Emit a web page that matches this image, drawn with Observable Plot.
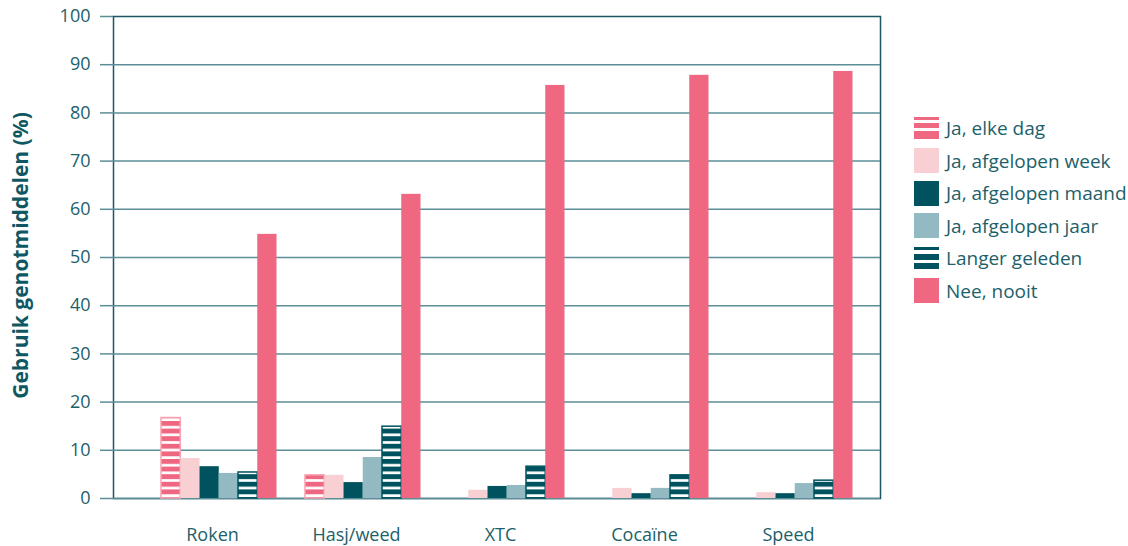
<!DOCTYPE html>
<html>
<head>
<meta charset="utf-8">
<script src="https://cdn.jsdelivr.net/npm/d3@7"></script>
<script src="https://cdn.jsdelivr.net/npm/@observablehq/plot@0.6"></script>
<style>
  html, body { margin: 0; padding: 0; background: #fff; }
  #wrap { position: relative; width: 1128px; height: 546px; font-family: "Open Sans", sans-serif; }
  #legend { position: absolute; left: 914px; top: 112px; color: #1d5f6a; font-size: 19px; }
  #legend .row { display: flex; align-items: center; height: 32.5px; white-space: nowrap; }
  #legend .sw { width: 25px; height: 24px; margin-right: 7px; flex: none; }
</style>
</head>
<body>
<div id="wrap"><div id="legend"></div></div>
<script>
// Drug use among respondents, percentage per answer
const categories = ["Roken", "Hasj/weed", "XTC", "Cocaïne", "Speed"];
const seriesNames = ["Ja, elke dag", "Ja, afgelopen week", "Ja, afgelopen maand", "Ja, afgelopen jaar", "Langer geleden", "Nee, nooit"];
const elkeDag        = [16.7, 4.8, 0, 0, 0];
const afgelopenWeek  = [8.3, 4.8, 1.7, 2.1, 1.2];
const afgelopenMaand = [6.6, 3.3, 2.5, 1.0, 1.0];
const afgelopenJaar  = [5.2, 8.5, 2.7, 2.1, 3.1];
const langerGeleden  = [5.4, 14.9, 6.6, 4.8, 3.7];
const neeNooit       = [54.8, 63.1, 85.7, 87.8, 88.6];
const yTicks = [0, 10, 20, 30, 40, 50, 60, 70, 80, 90, 100];
const yLabel = "Gebruik genotmiddelen (%)";

const seriesValues = [elkeDag, afgelopenWeek, afgelopenMaand, afgelopenJaar, langerGeleden, neeNooit];
const rows = [];
seriesNames.forEach((s, j) => categories.forEach((c, i) => rows.push({series: s, category: c, value: seriesValues[j][i]})));

const pink = "#f06781", lightPink = "#f8cfd3", darkTeal = "#00535e", greyTeal = "#93bac3";
const textColor = "#1d5f6a", gridColor = "#5b8e97", frameColor = "#1a5761";

// fill and outline per series; striped ones use SVG patterns added below
const styles = [
  {fill: "url(#stripePink)", stroke: "#f7a3b3", strokeWidth: 1.5},
  {fill: lightPink},
  {fill: darkTeal},
  {fill: greyTeal},
  {fill: "url(#stripeTeal)", stroke: darkTeal, strokeWidth: 1.5},
  {fill: pink}
];

const band = 144, barW = 19.25, lead = 21;
const barMarks = seriesNames.map((s, j) => Plot.barY(
  rows.filter(d => d.series === s && d.value > 0),
  {x: "category", y: "value", insetLeft: lead + j * barW, insetRight: band - lead - (j + 1) * barW, ...styles[j]}
));

const svg = Plot.plot({
  width: 1128,
  height: 546,
  marginLeft: 113,
  marginRight: 248,
  marginTop: 16,
  marginBottom: 48,
  style: {fontFamily: "'Open Sans', sans-serif", fontSize: "18px", color: textColor, background: "transparent"},
  x: {type: "band", domain: categories, range: [140, 860], padding: 0, axis: null},
  y: {domain: [0, 100], axis: null},
  marks: [
    Plot.frame({stroke: frameColor, strokeWidth: 1.5}),
    Plot.gridY(yTicks.filter(t => t < 100), {stroke: gridColor, strokeOpacity: 1, strokeWidth: 1.5}),
    ...barMarks,
    Plot.axisY(yTicks, {
      tickSize: 13, tickPadding: 10, stroke: gridColor, strokeWidth: 1.5, fill: textColor,
      fontSize: 18, tickFormat: d => String(d),
      label: null
    }),
    Plot.axisX({tickSize: 0, tickPadding: 30, fill: textColor, fontSize: 18, label: null}),
    Plot.text([yLabel], {
      frameAnchor: "left", dx: -100, dy: -2, rotate: -90, lineAnchor: "top", textAnchor: "middle",
      fill: "#0f5863", fontWeight: "bold", fontSize: 21
    })
  ]
});

// striped fills
const defs = d3.select(svg).insert("defs", ":first-child");
function stripes(id, color) {
  const p = defs.append("pattern").attr("id", id).attr("patternUnits", "userSpaceOnUse")
    .attr("width", 10).attr("height", 7.6).attr("patternTransform", "translate(0,3)");
  p.append("rect").attr("width", 10).attr("height", 7.6).attr("fill", color);
  p.append("rect").attr("y", 4.9).attr("width", 10).attr("height", 2.7).attr("fill", "#fff");
}
stripes("stripePink", pink);
stripes("stripeTeal", darkTeal);

const wrap = document.getElementById("wrap");
svg.style.position = "absolute";
svg.style.left = "0";
svg.style.top = "0";
wrap.insertBefore(svg, wrap.firstChild);

// legend
const swatchBg = [
  `linear-gradient(to bottom, ${pink} 0 3px, #fff 3px 6px, ${pink} 6px 11px, #fff 11px 14px, ${pink} 14px 22px)`,
  lightPink, darkTeal, greyTeal,
  `linear-gradient(to bottom, ${darkTeal} 0 3px, #fff 3px 7px, ${darkTeal} 7px 13px, #fff 13px 16px, ${darkTeal} 16px 22px)`,
  pink
];
const legend = d3.select("#legend");
seriesNames.forEach((s, j) => {
  const row = legend.append("div").attr("class", "row");
  row.append("div").attr("class", "sw")
    .style("background", swatchBg[j])
    .style("height", (j === 0 || j === 4) ? "22px" : "25px");
  row.append("span").text(s);
});
</script>
</body>
</html>
